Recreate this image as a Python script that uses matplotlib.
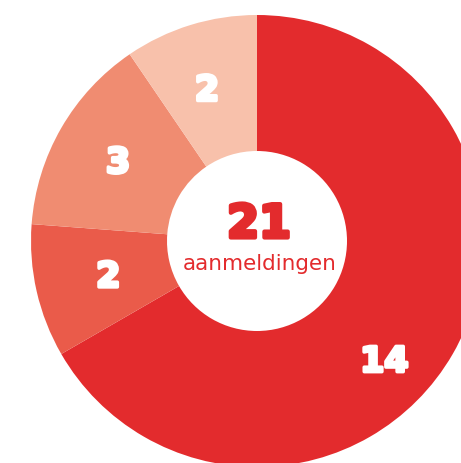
import numpy as np
import matplotlib
matplotlib.use("Agg")
import matplotlib.pyplot as plt
import matplotlib.patheffects as pe

# Data
values = [14, 2, 3, 2]
labels = ["14", "2", "3", "2"]
colors = ["#E32B2D", "#EA5B4A", "#F08C71", "#F8C1AB"]
total_label = "aanmeldingen"

# label placement (distance as fraction of radius, angle shift in degrees)
label_dist = [0.77, 0.675, 0.71, 0.71]
label_shift = [-13, 0, 0, 1]

W, H = 461, 463
fig = plt.figure(figsize=(W / 100, H / 100), dpi=100)
ax = fig.add_axes([0, 0, 1, 1])
ax.axis("off")

cx, cy = 257, H - 241
R = 226
wedges, _ = ax.pie(values, colors=colors, startangle=90, counterclock=False,
                   center=(cx, cy), radius=R,
                   wedgeprops=dict(width=R - 90, linewidth=0))
ax.set_xlim(0, W)
ax.set_ylim(0, H)
ax.set_aspect("equal")

for w, lab, d, s in zip(wedges, labels, label_dist, label_shift):
    ang = np.deg2rad((w.theta1 + w.theta2) / 2 + s)
    ax.text(cx + d * R * np.cos(ang), cy + d * R * np.sin(ang) - 2, lab,
            color="white", fontsize=25, fontweight="bold", family="DejaVu Sans",
            ha="center", va="center",
            path_effects=[pe.withStroke(linewidth=2.5, foreground="white")])

ax.text(cx + 2, cy + 16, str(sum(values)), color="#E32B2D", fontsize=33,
        fontweight="bold", family="DejaVu Sans", ha="center", va="center",
        path_effects=[pe.withStroke(linewidth=3, foreground="#E32B2D")])
ax.text(cx + 3, cy - 23, total_label, color="#E32B2D", fontsize=15.5,
        family="DejaVu Sans", ha="center", va="center")

fig.savefig("out.png", dpi=100)
